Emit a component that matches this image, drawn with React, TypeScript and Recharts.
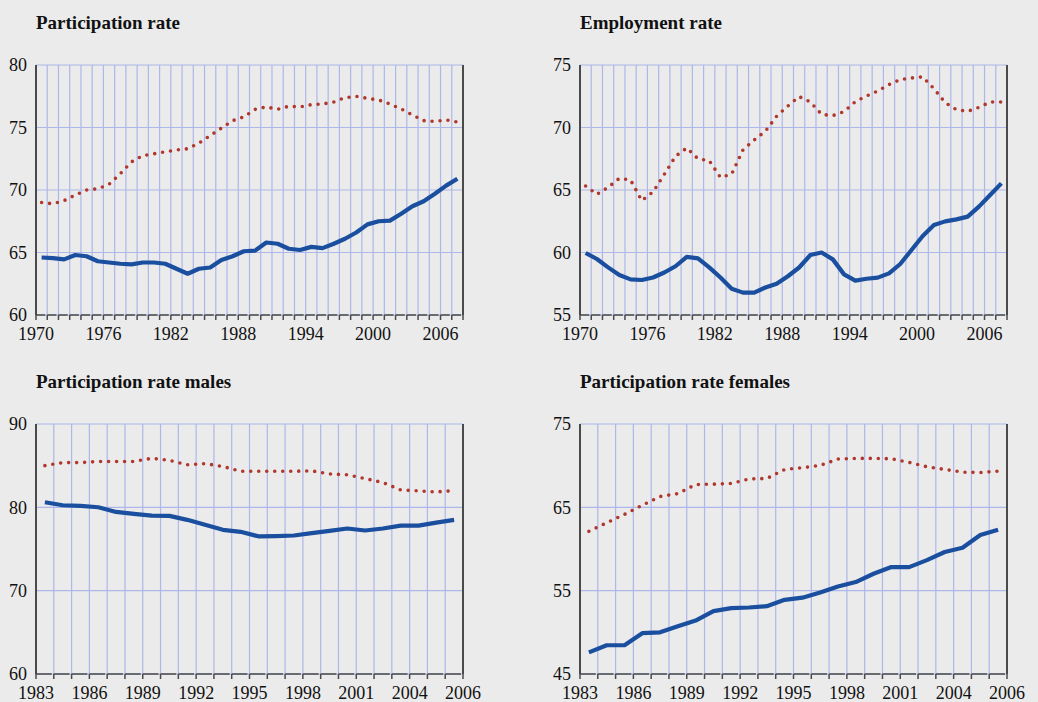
import { LineChart, Line, XAxis, YAxis, CartesianGrid } from "recharts";

const FONT = '"Liberation Serif", "Times New Roman", serif';

// 1970-2007
const yearsLong = [
  1970, 1971, 1972, 1973, 1974, 1975, 1976, 1977, 1978, 1979, 1980, 1981, 1982,
  1983, 1984, 1985, 1986, 1987, 1988, 1989, 1990, 1991, 1992, 1993, 1994, 1995,
  1996, 1997, 1998, 1999, 2000, 2001, 2002, 2003, 2004, 2005, 2006, 2007,
];
// 1983-2006
const yearsShort = [
  1983, 1984, 1985, 1986, 1987, 1988, 1989, 1990, 1991, 1992, 1993, 1994, 1995,
  1996, 1997, 1998, 1999, 2000, 2001, 2002, 2003, 2004, 2005, 2006,
];

const topLabelPos = [1970, 1976, 1982, 1988, 1994, 2000, 2006];
const topLabelText = ["1970", "1976", "1982", "1988", "1994", "2000", "2006"];
const bottomLabelPos = [1983, 1986, 1989, 1992, 1995, 1998, 2001, 2004, 2007];
const bottomLabelText = ["1983", "1986", "1989", "1992", "1995", "1998", "2001", "2004", "2006"];

const participationBlue = [
  64.6, 64.55, 64.45, 64.8, 64.7, 64.3, 64.2, 64.1, 64.05, 64.2, 64.2, 64.1, 63.7,
  63.3, 63.7, 63.8, 64.4, 64.7, 65.1, 65.15, 65.8, 65.7, 65.3, 65.2, 65.45, 65.35,
  65.7, 66.1, 66.6, 67.25, 67.5, 67.55, 68.1, 68.7, 69.1, 69.7, 70.35, 70.9,
];
const participationRed = [
  69.0, 68.9, 69.15, 69.6, 70.0, 70.1, 70.45, 71.3, 72.25, 72.75, 72.9, 73.05, 73.2,
  73.3, 73.75, 74.35, 74.95, 75.55, 75.85, 76.45, 76.65, 76.45, 76.7, 76.64, 76.83,
  76.88, 77.04, 77.39, 77.49, 77.33, 77.2, 76.88, 76.48, 76.0, 75.55, 75.49, 75.6, 75.44,
];

const employmentBlue = [
  59.96, 59.48, 58.81, 58.2, 57.85, 57.8, 58.0, 58.4, 58.9, 59.65, 59.53, 58.81, 58.0,
  57.1, 56.79, 56.79, 57.2, 57.5, 58.1, 58.8, 59.8, 60.0, 59.45, 58.25, 57.75, 57.9,
  57.99, 58.33, 59.08, 60.2, 61.32, 62.2, 62.49, 62.65, 62.87, 63.67, 64.6, 65.53,
];
const employmentRed = [
  65.32, 64.65, 65.21, 65.93, 65.8, 64.15, 64.85, 66.25, 67.7, 68.36, 67.5, 67.35, 66.0,
  66.28, 68.2, 69.0, 69.7, 70.9, 71.72, 72.47, 72.04, 71.05, 70.95, 71.27, 72.07, 72.52,
  72.92, 73.43, 73.83, 73.96, 74.05, 73.1, 71.99, 71.43, 71.29, 71.61, 72.04, 72.04,
];

const malesBlue = [
  80.61, 80.25, 80.17, 80.01, 79.45, 79.21, 79.01, 78.97, 78.5, 77.9, 77.3, 77.06,
  76.52, 76.55, 76.62, 76.9, 77.18, 77.46, 77.22, 77.46, 77.81, 77.81, 78.17, 78.49,
];
const malesRed = [
  85.0, 85.37, 85.37, 85.5, 85.5, 85.5, 85.88, 85.64, 85.1, 85.25, 84.9, 84.33,
  84.33, 84.33, 84.33, 84.37, 84.0, 83.9, 83.45, 82.97, 82.09, 81.97, 81.85, 82.0,
];

const femalesBlue = [
  47.6, 48.45, 48.45, 49.9, 50.0, 50.73, 51.41, 52.54, 52.9, 52.98, 53.14, 53.9,
  54.16, 54.78, 55.5, 56.03, 57.03, 57.83, 57.83, 58.67, 59.64, 60.16, 61.68, 62.32,
];
const femalesRed = [
  62.12, 63.15, 64.15, 65.25, 66.3, 66.64, 67.74, 67.78, 67.86, 68.4, 68.46, 69.54,
  69.75, 70.03, 70.79, 70.87, 70.87, 70.83, 70.39, 69.87, 69.55, 69.22, 69.18, 69.34,
];

const PLOT_W = 427;
const PLOT_H = 250;
const AXIS = "#4a4a4a";
const GRID = "#adb7ea";

interface PanelProps {
  title: string;
  plotLeft: number;
  plotTop: number;
  years: number[];
  blue: number[];
  red: number[];
  yTicks: number[];
  labelPos: number[];
  labelText: string[];
}

function Panel({ title, plotLeft, plotTop, years, blue, red, yTicks, labelPos, labelText }: PanelProps) {
  const data = years.map((y, i) => ({ x: y + 0.5, blue: blue[i], red: red[i] }));
  const end = years[years.length - 1] + 1;
  const ticks = [...years, end];
  const band = PLOT_W / years.length;
  const yDomain = [yTicks[0], yTicks[yTicks.length - 1]];
  const fmt = (v: number) => {
    const k = labelPos.indexOf(v);
    return k >= 0 ? labelText[k] : "";
  };
  const tickStyle = { fill: "#111", fontSize: 18, fontFamily: FONT };

  return (
    <>
      <div
        style={{
          position: "absolute",
          left: plotLeft,
          top: plotTop - 53,
          fontFamily: FONT,
          fontWeight: "bold",
          fontSize: 19,
          lineHeight: "21px",
          color: "#111",
          whiteSpace: "nowrap",
        }}
      >
        {title}
      </div>
      <div style={{ position: "absolute", left: plotLeft - 36, top: plotTop - 10 }}>
        <LineChart
          width={36 + PLOT_W + 56}
          height={10 + PLOT_H + 35}
          data={data}
          margin={{ top: 10, right: 6, bottom: 0, left: 0 }}
        >
          <CartesianGrid stroke={GRID} strokeWidth={1.2} />
          <XAxis
            type="number"
            dataKey="x"
            domain={[years[0], end]}
            ticks={ticks}
            interval={0}
            allowDataOverflow
            height={35}
            tickSize={5}
            tickMargin={7}
            tickFormatter={fmt}
            tick={tickStyle}
            axisLine={{ stroke: AXIS, strokeWidth: 1.5, strokeDasharray: `${band - 2} 2` }}
            tickLine={{ stroke: AXIS, strokeWidth: 1.5 }}
          />
          <YAxis
            domain={yDomain}
            ticks={yTicks}
            interval={0}
            width={36}
            tickLine={false}
            tickSize={6}
            tickMargin={3}
            tick={tickStyle}
            axisLine={{ stroke: AXIS, strokeWidth: 2 }}
          />
          <YAxis
            yAxisId="right"
            orientation="right"
            domain={yDomain}
            ticks={yTicks}
            interval={0}
            width={50}
            tickLine={false}
            tickSize={6}
            tickMargin={5}
            tick={tickStyle}
            axisLine={{ stroke: AXIS, strokeWidth: 2 }}
          />
          <Line
            type="linear"
            dataKey="red"
            stroke="#b0372c"
            strokeWidth={3.6}
            strokeDasharray="0 8"
            strokeLinecap="round"
            dot={false}
            isAnimationActive={false}
          />
          <Line
            type="linear"
            dataKey="blue"
            stroke="#1a4e9e"
            strokeWidth={4.2}
            strokeLinejoin="round"
            dot={false}
            isAnimationActive={false}
          />
        </LineChart>
      </div>
    </>
  );
}

export default function App() {
  return (
    <div
      style={{
        position: "absolute",
        left: 0,
        top: 0,
        width: 1038,
        height: 702,
        background: "#ebebeb",
        overflow: "hidden",
      }}
    >
      <Panel
        title="Participation rate"
        plotLeft={36}
        plotTop={65}
        years={yearsLong}
        blue={participationBlue}
        red={participationRed}
        yTicks={[60, 65, 70, 75, 80]}
        labelPos={topLabelPos}
        labelText={topLabelText}
      />
      <Panel
        title="Employment rate"
        plotLeft={580}
        plotTop={65}
        years={yearsLong}
        blue={employmentBlue}
        red={employmentRed}
        yTicks={[55, 60, 65, 70, 75]}
        labelPos={topLabelPos}
        labelText={topLabelText}
      />
      <Panel
        title="Participation rate males"
        plotLeft={36}
        plotTop={424}
        years={yearsShort}
        blue={malesBlue}
        red={malesRed}
        yTicks={[60, 70, 80, 90]}
        labelPos={bottomLabelPos}
        labelText={bottomLabelText}
      />
      <Panel
        title="Participation rate females"
        plotLeft={580}
        plotTop={424}
        years={yearsShort}
        blue={femalesBlue}
        red={femalesRed}
        yTicks={[45, 55, 65, 75]}
        labelPos={bottomLabelPos}
        labelText={bottomLabelText}
      />
    </div>
  );
}
